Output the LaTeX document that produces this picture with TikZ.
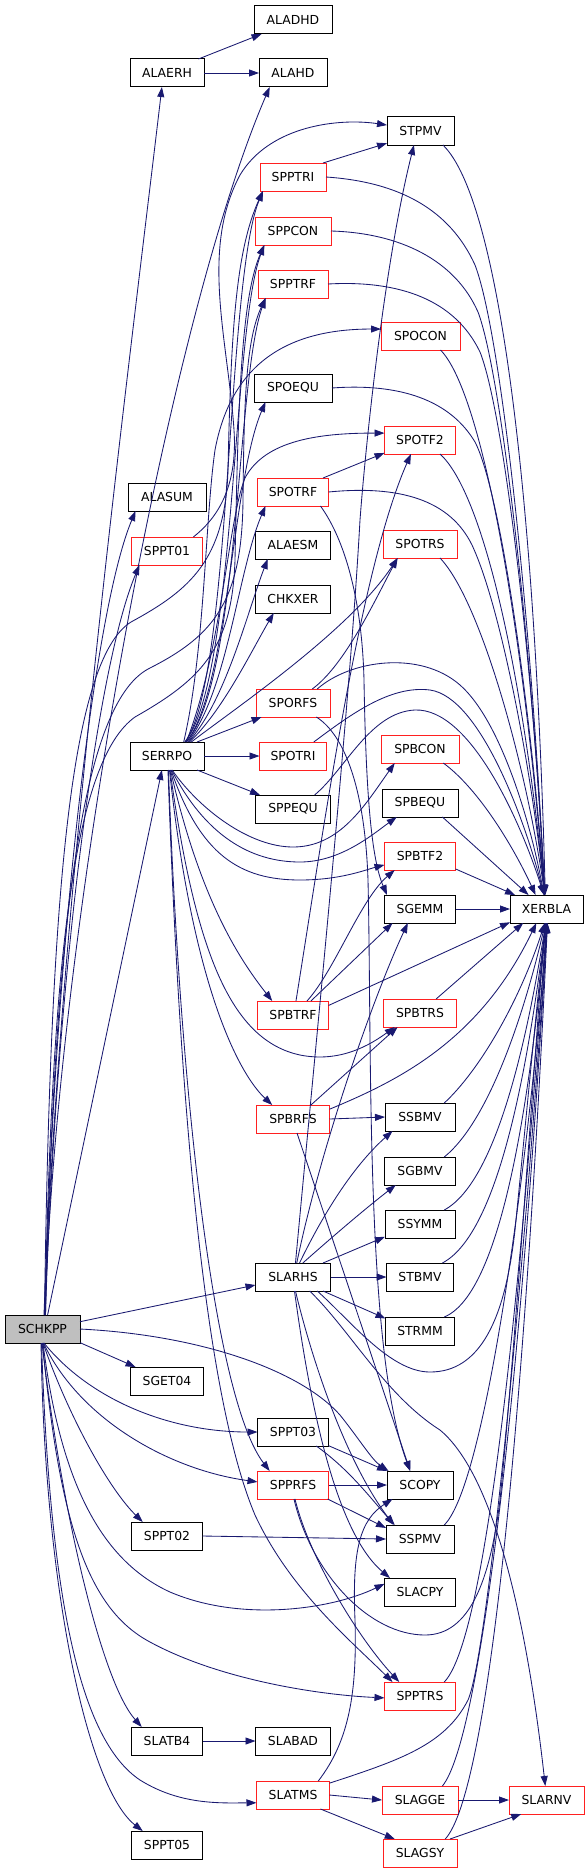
\documentclass[tikz,border=0pt]{standalone}
\usepackage{fontspec}
\setmainfont{DejaVu Sans}
\usetikzlibrary{arrows.meta}
\definecolor{edgec}{HTML}{191970}
\definecolor{boxred}{HTML}{FF2020}
\begin{document}
\begin{tikzpicture}[x=1pt,y=-1pt,
  bx/.style={draw=black, line width=1pt, minimum height=28pt, minimum width=#1pt, inner sep=0pt, outer sep=0pt, font=\fontsize{12.4}{14}\selectfont, fill=white},
  rb/.style={bx=#1, draw=boxred},
  e/.style={draw=edgec, line width=0.85pt, -{Triangle[length=10pt,width=7pt]}}]
\fill[white] (0,0) rectangle (587,1873);
\useasboundingbox (0,0) rectangle (587,1873);
% nodes
\node[bx=78] (ALADHD) at (293,20) {ALADHD};
\node[bx=74] (ALAERH) at (167,73) {ALAERH};
\node[bx=68] (ALAHD) at (293,73) {ALAHD};
\node[bx=67] (STPMV) at (420.5,131) {STPMV};
\node[rb=66] (SPPTRI) at (293,177) {SPPTRI};
\node[rb=76] (SPPCON) at (293,231) {SPPCON};
\node[rb=70] (SPPTRF) at (293,284) {SPPTRF};
\node[rb=79] (SPOCON) at (420.5,336) {SPOCON};
\node[bx=78] (SPOEQU) at (293,388) {SPOEQU};
\node[rb=71] (SPOTF2) at (420,440) {SPOTF2};
\node[rb=71] (SPOTRF) at (293,492) {SPOTRF};
\node[bx=78] (ALASUM) at (167,497) {ALASUM};
\node[rb=71] (SPPT01) at (167,551) {SPPT01};
\node[bx=75] (ALAESM) at (293,545) {ALAESM};
\node[rb=74] (SPOTRS) at (420,544) {SPOTRS};
\node[bx=75] (CHKXER) at (293,599) {CHKXER};
\node[rb=74] (SPORFS) at (293,703) {SPORFS};
\node[bx=74] (SERRPO) at (167,756) {SERRPO};
\node[rb=67] (SPOTRI) at (293,756) {SPOTRI};
\node[rb=78] (SPBCON) at (420,749) {SPBCON};
\node[bx=75] (SPPEQU) at (293,809) {SPPEQU};
\node[bx=76] (SPBEQU) at (420,803) {SPBEQU};
\node[rb=71] (SPBTF2) at (420,856) {SPBTF2};
\node[bx=71] (SGEMM) at (420,909) {SGEMM};
\node[bx=73] (XERBLA) at (546.5,909) {XERBLA};
\node[rb=71] (SPBTRF) at (293,1015) {SPBTRF};
\node[rb=73] (SPBTRS) at (420,1013) {SPBTRS};
\node[rb=73] (SPBRFS) at (293,1119) {SPBRFS};
\node[bx=70] (SSBMV) at (420,1117) {SSBMV};
\node[bx=71] (SGBMV) at (420,1171) {SGBMV};
\node[bx=70] (SSYMM) at (420,1224) {SSYMM};
\node[bx=75] (SLARHS) at (293,1277) {SLARHS};
\node[bx=67] (STBMV) at (420,1277) {STBMV};
\node[bx=69] (STRMM) at (420,1331) {STRMM};
\node[bx=75, fill=gray!50] (SCHKPP) at (42.5,1329) {SCHKPP};
\node[bx=73] (SGET04) at (167,1381) {SGET04};
\node[bx=71] (SPPT03) at (293,1432) {SPPT03};
\node[bx=66] (SCOPY) at (420,1485) {SCOPY};
\node[rb=71] (SPPRFS) at (293,1485) {SPPRFS};
\node[bx=71] (SPPT02) at (167,1536) {SPPT02};
\node[bx=68] (SSPMV) at (420,1539) {SSPMV};
\node[bx=71] (SLACPY) at (420,1592) {SLACPY};
\node[rb=71] (SPPTRS) at (420,1696) {SPPTRS};
\node[bx=71] (SLATB4) at (167,1741) {SLATB4};
\node[bx=75] (SLABAD) at (293,1741) {SLABAD};
\node[rb=73] (SLATMS) at (293,1795) {SLATMS};
\node[rb=76] (SLAGGE) at (420,1800) {SLAGGE};
\node[rb=75] (SLARNV) at (546.5,1800) {SLARNV};
\node[rb=74] (SLAGSY) at (420,1853) {SLAGSY};
\node[bx=71] (SPPT05) at (167,1845) {SPPT05};
% ALAERH
\draw[e] (ALAERH.24) -- (ALADHD.204);
\draw[e] (ALAERH.east) -- (ALAHD.west);
% SCHKPP upward
\draw[e] (SCHKPP.84) .. controls (60,900) and (125,400) .. (ALAERH.250);
\draw[e] (SCHKPP.80) .. controls (55,950) and (165,330) .. (ALAHD.211);
\draw[e] (SCHKPP.80) .. controls (52,1000) and (90,620) .. (ALASUM.204);
\draw[e] (SCHKPP.78) .. controls (55,1000) and (95,670) .. (SPPT01.207);
\draw[e] (SCHKPP.70) -- (SERRPO.250);
\draw[e] (SCHKPP.82) .. controls (50,900) and (70,660) .. (131,622) .. controls (190,590) and (225,560) .. (228,470) .. controls (231,330) and (236,250) .. (SPPTRI.205);
\draw[e] (SCHKPP.80) .. controls (52,950) and (75,760) .. (135,717) .. controls (200,680) and (232,650) .. (235,560) .. controls (238,420) and (240,300) .. (SPPCON.206);
\draw[e] (SCHKPP.78) .. controls (55,900) and (85,700) .. (150,668) .. controls (215,635) and (242,600) .. (243,500) .. controls (244,400) and (246,340) .. (SPPTRF.207);
% SERRPO upward
\draw[e] (SERRPO.38) .. controls (232,680) and (226,280) .. (SPPTRI.205);
\draw[e] (SERRPO.38) .. controls (236,680) and (232,330) .. (SPPCON.206);
\draw[e] (SERRPO.36) .. controls (240,680) and (236,380) .. (SPPTRF.207);
\draw[e] (SERRPO.40) .. controls (205,650) and (205,520) .. (215,450) .. controls (230,370) and (280,329) .. (SPOCON.170);
\draw[e] (SERRPO.36) .. controls (228,690) and (232,480) .. (SPOEQU.207);
\draw[e] (SERRPO.36) .. controls (222,650) and (228,520) .. (245,478) .. controls (265,440) and (320,433) .. (SPOTF2.169);
\draw[e] (SERRPO.34) .. controls (228,690) and (238,570) .. (SPOTRF.207);
\draw[e] (SERRPO.33) .. controls (226,700) and (248,610) .. (ALAESM.209);
\draw[e] (SERRPO.32) .. controls (222,712) and (252,650) .. (CHKXER.216);
\draw[e] (SERRPO.30) .. controls (240,705) and (350,630) .. (SPOTRS.212);
\draw[e] (SERRPO.25) -- (SPORFS.204);
\draw[e] (SERRPO.east) -- (SPOTRI.west);
\draw[e] (SERRPO.-25) -- (SPPEQU.157);
% SERRPO downward
\draw[e] (SERRPO.-70) .. controls (200,810) and (250,847) .. (293,847) .. controls (340,847) and (365,805) .. (SPBCON.209);
\draw[e] (SERRPO.-72) .. controls (205,835) and (250,862) .. (300,862) .. controls (340,862) and (372,835) .. (SPBEQU.211);
\draw[e] (SERRPO.-74) .. controls (200,855) and (240,880) .. (300,880) .. controls (340,880) and (365,870) .. (SPBTF2.194);
\draw[e] (SERRPO.-76) .. controls (200,900) and (240,960) .. (SPBTRF.146);
\draw[e] (SERRPO.-78) .. controls (195,950) and (230,1040) .. (300,1055) .. controls (340,1063) and (370,1045) .. (SPBTRS.209);
\draw[e] (SERRPO.-80) .. controls (193,990) and (240,1075) .. (SPBRFS.146);
\draw[e] (SERRPO.-84) .. controls (180,1100) and (215,1400) .. (SPPRFS.149);
\draw[e] (SERRPO.-86) .. controls (183,1200) and (215,1420) .. (255,1515) .. controls (290,1590) and (350,1640) .. (SPPTRS.153);
% SCHKPP lower
\draw[e] (SCHKPP.11) -- (SLARHS.192);
\draw[e] (SCHKPP.-20) -- (SGET04.156);
\draw[e] (SCHKPP.east) .. controls (200,1335) and (300,1370) .. (340,1415) .. controls (360,1440) and (372,1460) .. (SCOPY.156);
\draw[e] (SCHKPP.-84) .. controls (90,1400) and (170,1432) .. (SPPT03.west);
\draw[e] (SCHKPP.-86) .. controls (80,1420) and (170,1470) .. (SPPRFS.175);
\draw[e] (SCHKPP.-88) .. controls (70,1420) and (110,1490) .. (SPPT02.150);
\draw[e] (SCHKPP.-88) .. controls (60,1480) and (100,1560) .. (170,1592) .. controls (240,1622) and (330,1610) .. (SLACPY.167);
\draw[e] (SCHKPP.-90) .. controls (60,1530) and (90,1610) .. (150,1642) .. controls (220,1680) and (320,1695) .. (SPPTRS.183);
\draw[e] (SCHKPP.-92) .. controls (60,1500) and (100,1680) .. (SLATB4.151);
\draw[e] (SCHKPP.-94) .. controls (50,1600) and (80,1740) .. (140,1780) .. controls (180,1805) and (220,1803) .. (SLATMS.192);
\draw[e] (SCHKPP.-96) .. controls (45,1600) and (90,1790) .. (SPPT05.150);
% small ones
\draw[e] (SLATB4.east) -- (SLABAD.west);
\draw[e] (SPPT02.east) -- (SSPMV.west);
\draw[e] (SPPT03.-21) -- (SCOPY.157);
\draw[e] (SPPT03.-31) .. controls (350,1470) and (372,1500) .. (SSPMV.151);
\draw[e] (SPPRFS.east) -- (SCOPY.west);
\draw[e] (SPPRFS.-22) -- (SSPMV.162);
\draw[e] (SPPRFS.-82) .. controls (310,1560) and (360,1640) .. (SPPTRS.146);
\draw[e] (SPPRFS.-86) .. controls (312,1575) and (370,1635) .. (425,1635) .. controls (470,1635) and (490,1580) .. (500,1500) .. controls (515,1350) and (535,1050) .. (XERBLA.-95);
% SLARHS
\draw[e] (SLARHS.80) .. controls (320,1000) and (350,700) .. (360,520) .. controls (366,440) and (385,260) .. (STPMV.245);
\draw[e] (SLARHS.75) .. controls (320,1150) and (372,1000) .. (SGEMM.229);
\draw[e] (SLARHS.65) .. controls (330,1200) and (360,1160) .. (SSBMV.207);
\draw[e] (SLARHS.55) .. controls (340,1230) and (370,1205) .. (SGBMV.210);
\draw[e] (SLARHS.25) -- (SSYMM.200);
\draw[e] (SLARHS.east) -- (STBMV.west);
\draw[e] (SLARHS.-25) -- (STRMM.160);
\draw[e] (SLARHS.-80) .. controls (312,1360) and (345,1460) .. (SSPMV.152);
\draw[e] (SLARHS.-84) .. controls (308,1390) and (333,1530) .. (SLACPY.155);
\draw[e] (SLARHS.-40) .. controls (350,1330) and (385,1395) .. (440,1430) .. controls (500,1480) and (530,1650) .. (SLARNV.95);
\draw[e] (SLARHS.-30) .. controls (350,1320) and (390,1372) .. (430,1372) .. controls (480,1372) and (505,1320) .. (515,1230) .. controls (528,1100) and (537,1000) .. (XERBLA.-92);
% SPBTRF / SPBTRS / SPBRFS
\draw[e] (SPBTRF.78) .. controls (325,820) and (360,570) .. (SPOTF2.237);
\draw[e] (SPBTRF.45) .. controls (335,970) and (360,900) .. (SPBTF2.209);
\draw[e] (SPBTRF.38) -- (SGEMM.207);
\draw[e] (SPBTRF.15) -- (XERBLA.200);
\draw[e] (SPBTRS.41) -- (XERBLA.211);
\draw[e] (SPBRFS.38) -- (SPBTRS.212);
\draw[e] (SPBRFS.15) .. controls (400,1080) and (480,1040) .. (XERBLA.234);
\draw[e] (SPBRFS.east) -- (SSBMV.west);
\draw[e] (SPBRFS.-74) -- (SCOPY.125);
% SPORFS / SPOTRI / SPPEQU
\draw[e] (SPORFS.-31) .. controls (345,735) and (365,790) .. (368,880) .. controls (372,1050) and (365,1350) .. (SCOPY.125);
\draw[e] (SPORFS.36) .. controls (345,665) and (375,600) .. (SPOTRS.212);
\draw[e] (SPORFS.30) .. controls (350,660) and (420,650) .. (460,685) .. controls (500,720) and (530,820) .. (XERBLA.100);
\draw[e] (SPOTRI.34) .. controls (350,715) and (390,685) .. (430,690) .. controls (480,697) and (525,820) .. (XERBLA.100);
\draw[e] (SPPEQU.33) .. controls (345,770) and (370,712) .. (415,710) .. controls (470,708) and (520,820) .. (XERBLA.100);
% into XERBLA from the left side
\draw[e] (SPBCON.-31) .. controls (480,790) and (515,850) .. (XERBLA.128);
\draw[e] (SPBEQU.-32) -- (XERBLA.142);
\draw[e] (SPBTF2.-20) -- (XERBLA.156);
\draw[e] (SGEMM.east) -- (XERBLA.west);
% SPOTRF
\draw[e] (SPOTRF.-27) .. controls (345,540) and (362,600) .. (364,680) .. controls (366,800) and (372,860) .. (SGEMM.157);
\draw[e] (SPOTRF.25) -- (SPOTF2.200);
\draw[e] (SPOTRF.east) .. controls (400,485) and (450,500) .. (472,545) .. controls (500,605) and (530,760) .. (XERBLA.97);
% STPMV
\draw[e] (SPPTRI.25) -- (STPMV.200);
\draw[e] (SPPT01.28) .. controls (215,520) and (238,490) .. (234,430) .. controls (228,340) and (200,250) .. (240,175) .. controls (270,125) and (340,118) .. (STPMV.170);
% upper column into XERBLA
\draw[e] (STPMV.-32) .. controls (500,200) and (535,500) .. (XERBLA.95);
\draw[e] (SPPTRI.east) .. controls (400,182) and (450,210) .. (475,265) .. controls (500,330) and (530,600) .. (XERBLA.97);
\draw[e] (SPPCON.east) .. controls (400,233) and (455,260) .. (478,312) .. controls (500,370) and (530,620) .. (XERBLA.97);
\draw[e] (SPPTRF.east) .. controls (400,280) and (455,300) .. (480,352) .. controls (503,410) and (532,650) .. (XERBLA.97);
\draw[e] (SPOCON.-35) .. controls (480,390) and (520,600) .. (XERBLA.97);
\draw[e] (SPOEQU.east) .. controls (400,383) and (450,400) .. (475,442) .. controls (500,490) and (530,700) .. (XERBLA.97);
\draw[e] (SPOTF2.-35) .. controls (480,490) and (520,650) .. (XERBLA.97);
\draw[e] (SPOTRS.-35) .. controls (480,600) and (525,760) .. (XERBLA.97);
% lower column into XERBLA
\draw[e] (SSBMV.30) .. controls (480,1070) and (520,1000) .. (XERBLA.-97);
\draw[e] (SGBMV.30) .. controls (490,1120) and (525,1010) .. (XERBLA.-95);
\draw[e] (SSYMM.30) .. controls (500,1180) and (530,1020) .. (XERBLA.-93);
\draw[e] (STBMV.32) .. controls (505,1230) and (532,1030) .. (XERBLA.-92);
\draw[e] (STRMM.30) .. controls (510,1290) and (535,1040) .. (XERBLA.-91);
\draw[e] (SSPMV.30) .. controls (490,1480) and (535,1100) .. (XERBLA.-90);
\draw[e] (SPPTRS.30) .. controls (495,1630) and (530,1150) .. (XERBLA.-89);
\draw[e] (SLATMS.18) .. controls (400,1760) and (445,1745) .. (468,1700) .. controls (490,1650) and (530,1200) .. (XERBLA.-88);
\draw[e] (SLAGGE.32) .. controls (480,1740) and (520,1400) .. (XERBLA.-87);
\draw[e] (SLAGSY.29) .. controls (490,1790) and (525,1400) .. (XERBLA.-86);
% SLATMS etc.
\draw[e] (SLATMS.east) -- (SLAGGE.west);
\draw[e] (SLATMS.-27) -- (SLAGSY.151);
\draw[e] (SLATMS.29) .. controls (350,1740) and (357,1690) .. (355,1620) .. controls (352,1550) and (360,1520) .. (SCOPY.207);
\draw[e] (SLAGGE.east) -- (SLARNV.west);
\draw[e] (SLAGSY.25) -- (SLARNV.209);
\end{tikzpicture}
\end{document}
